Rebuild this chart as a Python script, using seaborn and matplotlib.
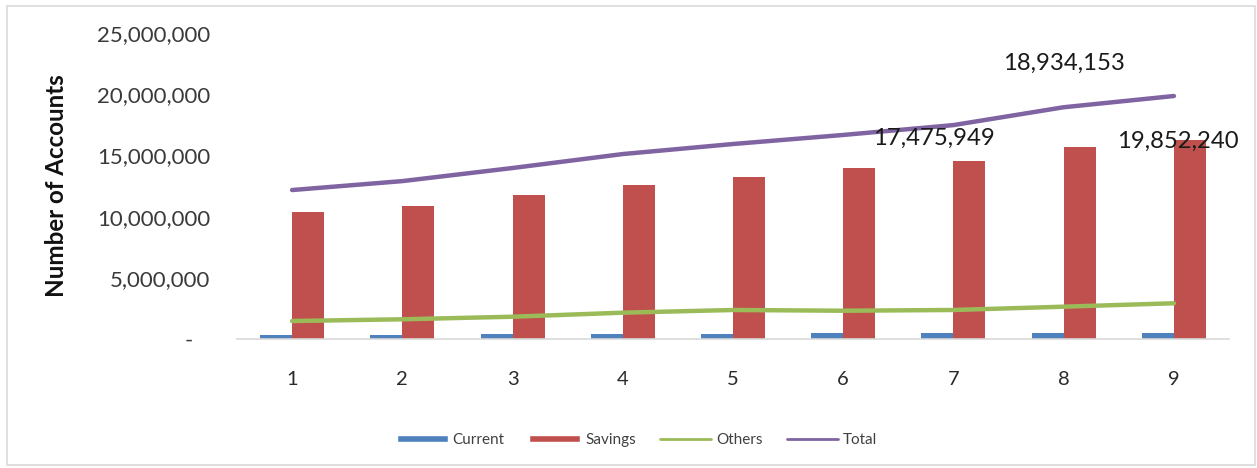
import matplotlib
matplotlib.use("Agg")
import matplotlib.pyplot as plt
from matplotlib.patches import Rectangle, Patch
from matplotlib.lines import Line2D
from matplotlib.ticker import FuncFormatter
import numpy as np
import pandas as pd
import seaborn as sns

# Account counts per period
periods = ["1", "2", "3", "4", "5", "6", "7", "8", "9"]
current = [330000, 330000, 430000, 430000, 430000, 510000, 510000, 510000, 510000]
savings = [10380000, 10890000, 11760000, 12580000, 13240000, 13950000, 14570000, 15710000, 16260000]
others = [1470000, 1610000, 1820000, 2150000, 2370000, 2310000, 2370000, 2640000, 2920000]
total = [12170000, 12900000, 13970000, 15110000, 15930000, 16670000, 17475949, 18934153, 19852240]
# periods whose total is written next to the line, with the text offset in points
labelled_points = {6: (-14.0, -9.6), 7: (0, 31.5), 8: (2.9, -32.4)}

colors = {"Current": "#4F81BD", "Savings": "#C0504D", "Others": "#9BBB59", "Total": "#8064A2"}

sns.set_theme(style="white")
plt.rcParams["font.family"] = ["Lato", "DejaVu Sans"]

fig = plt.figure(figsize=(12.57, 4.68), dpi=100)
ax = fig.add_axes([237 / 1257, 1 - 339 / 468, (1229 - 237) / 1257, (339 - 33) / 468])

bars = pd.DataFrame({
    "period": periods * 2,
    "type": ["Current"] * len(periods) + ["Savings"] * len(periods),
    "accounts": current + savings,
})
sns.barplot(data=bars, x="period", y="accounts", hue="type", order=periods,
            palette=[colors["Current"], colors["Savings"]], width=0.58,
            saturation=1, legend=False, ax=ax, linewidth=0)

pos = np.arange(len(periods))
lines = pd.DataFrame({
    "pos": np.concatenate([pos, pos]),
    "series": ["Others"] * len(periods) + ["Total"] * len(periods),
    "accounts": others + total,
})
sns.lineplot(data=lines, x="pos", y="accounts", hue="series",
             palette=[colors["Others"], colors["Total"]], linewidth=3.2,
             legend=False, ax=ax, solid_capstyle="round")

for i, (dx, dy) in labelled_points.items():
    ax.annotate(f"{total[i]:,}", (pos[i], total[i]), xytext=(dx, dy),
                textcoords="offset points", ha="center", va="center",
                fontsize=17.2, color="#1a1a1a")

ax.set_xlim(-0.5, len(periods) - 0.5)
ax.set_ylim(0, 25000000)
ax.set_yticks(np.arange(0, 25000001, 5000000))
ax.yaxis.set_major_formatter(FuncFormatter(lambda v, _: "-   " if v == 0 else f"{int(v):,}"))
ax.tick_params(axis="y", length=0, pad=19.4, labelsize=16, labelcolor="#3a3a3a")
ax.tick_params(axis="x", length=0, pad=23, labelsize=14.5, labelcolor="#2a2a2a")
ax.set_xlabel("")
ax.set_ylabel("Number of Accounts", fontsize=17.4, fontweight="bold", color="#111111")
ax.yaxis.set_label_coords(-0.17, 0.5)

for side in ["left", "right", "top"]:
    ax.spines[side].set_visible(False)
ax.spines["bottom"].set_color("#d9d9d9")
ax.spines["bottom"].set_linewidth(1.2)

handles = [
    Patch(facecolor=colors["Current"], label="Current"),
    Patch(facecolor=colors["Savings"], label="Savings"),
    Line2D([0], [0], color=colors["Others"], lw=2, label="Others"),
    Line2D([0], [0], color=colors["Total"], lw=2, label="Total"),
]
fig.legend(handles=handles, loc="center", bbox_to_anchor=(637 / 1257, 1 - 440 / 468),
           ncol=4, frameon=False, fontsize=11, handlelength=3.33, handleheight=0.35,
           columnspacing=1.6, handletextpad=0.33, labelcolor="#404040")

# light frame around the whole chart
fig.patches.append(Rectangle((7 / 1257, 3 / 468), 1248 / 1257, 459 / 468,
                             transform=fig.transFigure, fill=False,
                             edgecolor="#d9d9d9", linewidth=1.2))

fig.savefig("out.png", dpi=100)
